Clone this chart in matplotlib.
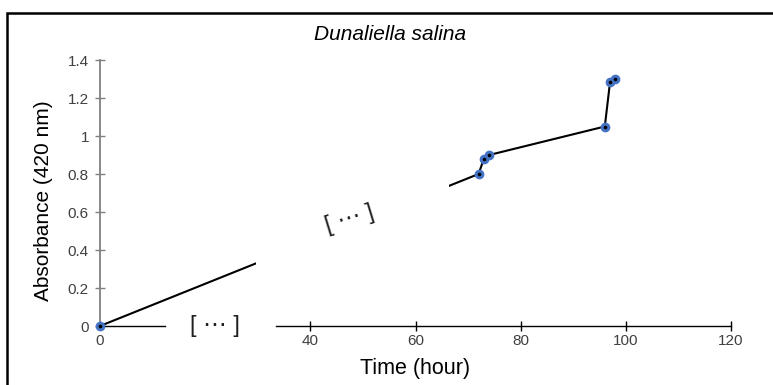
import matplotlib
matplotlib.use("Agg")
import matplotlib.pyplot as plt
from matplotlib.patches import Rectangle

# Data
hours = [0, 72, 73, 74, 96, 97, 98]
absorbance = [0.0, 0.80, 0.88, 0.90, 1.05, 1.285, 1.30]
x_ticks = [0, 40, 60, 80, 100, 120]
y_ticks = [0, 0.2, 0.4, 0.6, 0.8, 1.0, 1.2, 1.4]
y_tick_labels = ["0", "0.2", "0.4", "0.6", "0.8", "1", "1.2", "1.4"]
title = "Dunaliella salina"
xlabel = "Time (hour)"
ylabel = "Absorbance (420 nm)"
gap_marker = "[ \u22ef ]"

plt.rcParams['font.family'] = ['Liberation Sans', 'DejaVu Sans']

W, H = 773, 385
fig = plt.figure(figsize=(W / 100, H / 100), dpi=100)
ax = fig.add_axes([100 / W, (H - 326) / H, (731 - 100) / W, (326 - 60) / H])
ax.set_xlim(0, 120)
ax.set_ylim(0, 1.4)

# line and markers
ax.plot(hours, absorbance, color='black', lw=1.5, zorder=3, clip_on=False)
# break in the data line
ax.add_patch(Rectangle((29.6, 0.15), 66.4 - 29.6, 0.75, facecolor='white',
                       edgecolor='none', zorder=3.5))
ax.plot(hours, absorbance, ls='none', marker='o', ms=6, mfc='#4472C4',
        mec='#4472C4', zorder=4, clip_on=False)
ax.plot(hours, absorbance, ls='none', marker='o', ms=1.6, mfc='black',
        mec='black', zorder=4.5, clip_on=False)

# axes styling
for s in ['top', 'right', 'bottom']:
    ax.spines[s].set_visible(False)
ax.spines['left'].set_color('#808080')
ax.spines['left'].set_linewidth(1.3)
ax.spines['left'].set_zorder(2)

# broken x axis
ax.plot([0, 12.4], [0, 0], color='black', lw=1.0, clip_on=False, zorder=2.5)
ax.plot([33.5, 120], [0, 0], color='black', lw=1.0, clip_on=False, zorder=2.5)

ax.set_xticks(x_ticks)
ax.set_xticklabels([str(v) for v in x_ticks])
ax.set_yticks(y_ticks)
ax.set_yticklabels(y_tick_labels)
ax.tick_params(axis='x', direction='inout', length=7, width=1.0, color='black',
               labelsize=11, labelcolor='#404040', pad=2.5)
ax.tick_params(axis='y', direction='inout', length=7, width=1.0, color='#808080',
               labelsize=11, labelcolor='#404040', pad=4.5)
ax.xaxis.get_major_ticks()[0].tick1line.set_visible(False)

ax.text(21.8, 0, gap_marker, ha='center', va='center', fontsize=17,
        color='#202020', zorder=5)
ax.text(47.5, 0.56, gap_marker, ha='center', va='center', fontsize=17,
        color='#202020', rotation=17, zorder=5)

ax.set_xlabel(xlabel, fontsize=15.5, labelpad=7)
ax.set_ylabel(ylabel, fontsize=15)
ax.yaxis.set_label_coords(-0.074, 0.47)
fig.text(390 / W, 1 - 35 / H, title, fontsize=15, style='italic',
         ha='center', va='center')

# outer frame
fig.patches.append(Rectangle((7 / W, -0.1), 1.2, 1.1 - 13 / H, transform=fig.transFigure,
                             facecolor='none', edgecolor='black', lw=1.8))

fig.savefig('out.png', dpi=100)
